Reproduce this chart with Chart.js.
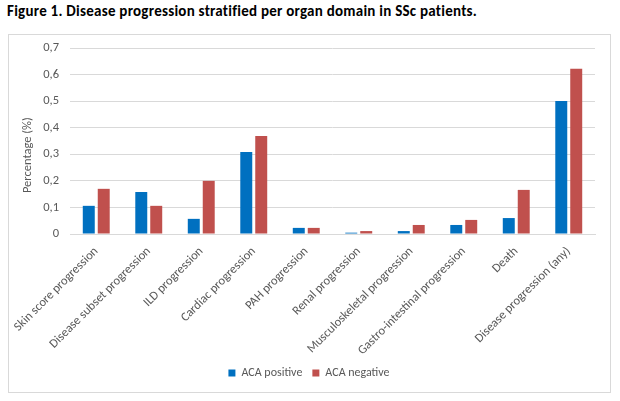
<!DOCTYPE html>
<html>
<head>
<meta charset="utf-8">
<script src="https://cdn.jsdelivr.net/npm/chart.js@4.4.1/dist/chart.umd.min.js"></script>
<style>
  body { margin: 0; background: #fff; }
  #wrap { position: relative; width: 620px; height: 401px; overflow: hidden; }
  #title {
    position: absolute; left: 7px; top: 2px; letter-spacing: 0.25px;
    font: bold 15px Carlito, Lato, sans-serif; color: #000; white-space: nowrap;
  }
  #box {
    position: absolute; left: 8px; top: 34px; width: 601px; height: 357px;
    border: 1px solid #d9d9d9;
  }
  canvas { position: absolute; left: 0; top: 0; }
</style>
</head>
<body>
<div id="wrap">
  <div id="title">Figure 1. Disease progression stratified per organ domain in SSc patients.</div>
  <div id="box"></div>
  <canvas id="chart" width="620" height="401"></canvas>
</div>
<script>
let categories = [
  "Skin score progression",
  "Disease subset progression",
  "ILD progression",
  "Cardiac progression",
  "PAH progression",
  "Renal progression",
  "Musculoskeletal progression",
  "Gastro-intestinal progression",
  "Death",
  "Disease progression (any)"
];
let acaPositive = [0.106, 0.158, 0.057, 0.309, 0.023, 0.005, 0.011, 0.034, 0.060, 0.501];
let acaNegative = [0.170, 0.106, 0.200, 0.369, 0.023, 0.011, 0.034, 0.053, 0.166, 0.622];
let yTicks = [0, 0.1, 0.2, 0.3, 0.4, 0.5, 0.6, 0.7];

const grey = "#595959";
const fontFamily = "Carlito, Lato, sans-serif";

new Chart(document.getElementById("chart"), {
  type: "bar",
  data: {
    labels: categories,
    datasets: [
      { label: "ACA positive", data: acaPositive, backgroundColor: "#0070C0",
        barPercentage: 0.8, categoryPercentage: 0.57 },
      { label: "ACA negative", data: acaNegative, backgroundColor: "#C0504D",
        barPercentage: 0.8, categoryPercentage: 0.57 }
    ]
  },
  options: {
    responsive: false,
    animation: false,
    layout: { padding: { left: 8, right: 10, top: 48, bottom: 12 } },
    plugins: {
      tooltip: { enabled: false },
      legend: {
        position: "bottom",
        labels: { boxWidth: 7, boxHeight: 7, color: grey, font: { family: fontFamily, size: 12 }, padding: 10 }
      }
    },
    scales: {
      x: {
        grid: { display: false },
        border: { display: true, color: "#d9d9d9" },
        ticks: { color: grey, font: { family: fontFamily, size: 12.5 }, minRotation: 45, maxRotation: 45, autoSkip: false, padding: 2 },
        afterFit: (scale) => { scale.height = 123; }
      },
      y: {
        min: 0, max: 0.7,
        afterBuildTicks: (scale) => { scale.ticks = yTicks.map(v => ({ value: v })); },
        grid: { color: "#d9d9d9", drawTicks: false },
        border: { display: false },
        ticks: {
          color: grey, font: { family: fontFamily, size: 12.5 }, padding: 11,
          callback: (v) => v === 0 ? "0" : v.toFixed(1).replace(".", ",")
        },
        title: {
          display: true, text: "Percentage (%)" + "\u00a0".repeat(10), color: grey,
          font: { family: fontFamily, size: 12.5 }, padding: { top: 12, bottom: 0 }
        },
        afterFit: (scale) => { scale.width = 62; }
      },
      // empty right-hand spacer so the plot ends at the same place while the legend centres on the box
      spacer: {
        type: "linear", position: "right", display: true,
        grid: { display: false }, border: { display: false }, ticks: { display: false },
        afterFit: (scale) => { scale.width = 15; }
      }
    }
  }
});
</script>
</body>
</html>
